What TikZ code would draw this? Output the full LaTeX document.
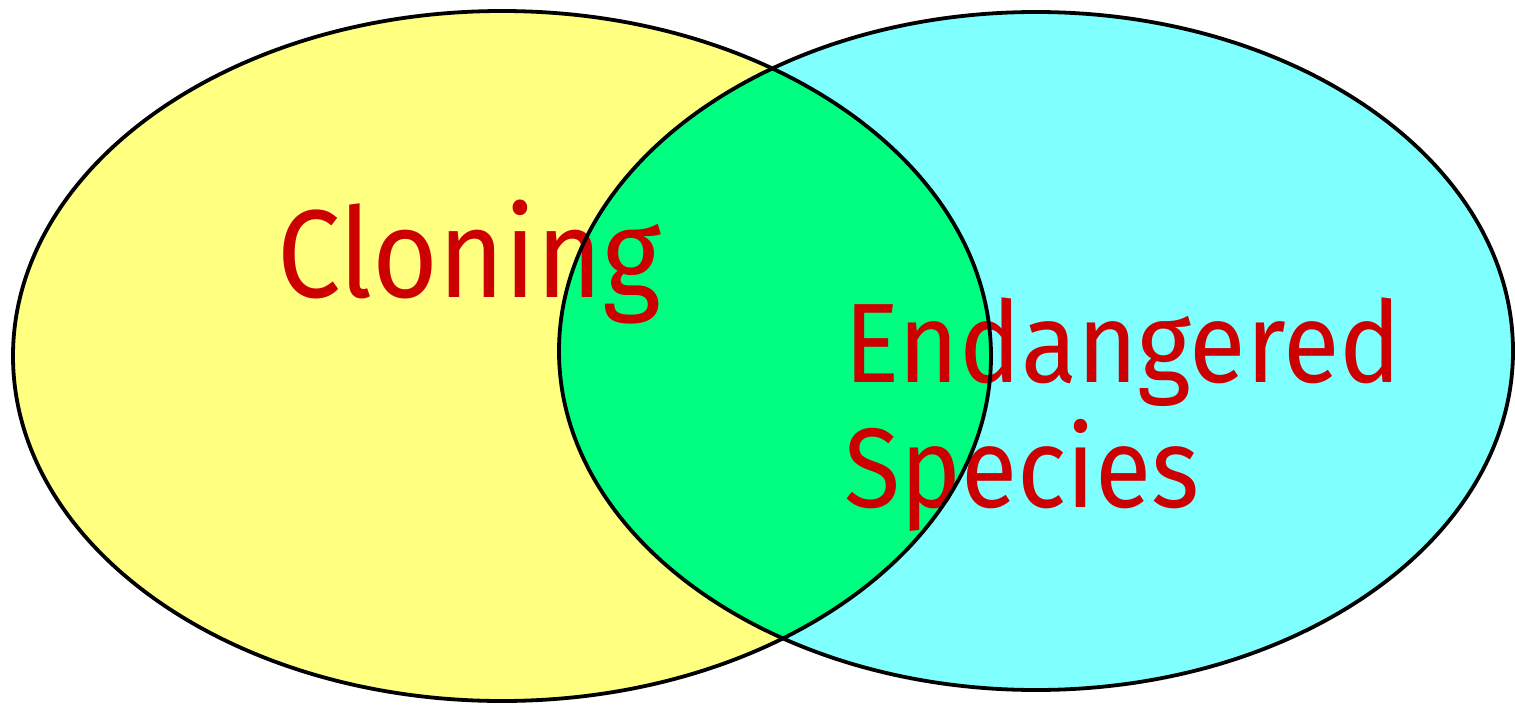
\documentclass[tikz,border=0pt]{standalone}
\usepackage{fontspec}
\setmainfont{Fira Sans}
\definecolor{vyellow}{HTML}{FFFF80}
\definecolor{vcyan}{HTML}{80FFFF}
\definecolor{vgreen}{HTML}{00FF80}
\definecolor{vred}{HTML}{CC0000}
\begin{document}
\begin{tikzpicture}[x=1pt,y=-1pt,
  outline/.style={draw=black,line width=3.8pt},
  label/.style={text=vred,inner sep=0pt,anchor=base west}]
\useasboundingbox[fill=white] (0,0) rectangle (1515,704);
\fill[vyellow] (502,356) ellipse [x radius=489,y radius=345];
\fill[vcyan] (1036,351) ellipse [x radius=477,y radius=339];
\begin{scope}
  \clip (502,356) ellipse [x radius=489,y radius=345];
  \fill[vgreen] (1036,351) ellipse [x radius=477,y radius=339];
\end{scope}
\node[label,font=\fontsize{125}{140}\selectfont] (clon) at (277,297) {\scalebox{0.905}[1]{Cloning}};
\node[label,font=\fontsize{113}{125}\selectfont] (endg) at (844,382) {\scalebox{0.915}[1]{Endangered}};
\node[label,font=\fontsize{113}{125}\selectfont] (spec) at (844,507) {\scalebox{0.91}[1]{Species}};
\draw[outline] (502,356) ellipse [x radius=489,y radius=345];
\draw[outline] (1036,351) ellipse [x radius=477,y radius=339];
\end{tikzpicture}
\end{document}
